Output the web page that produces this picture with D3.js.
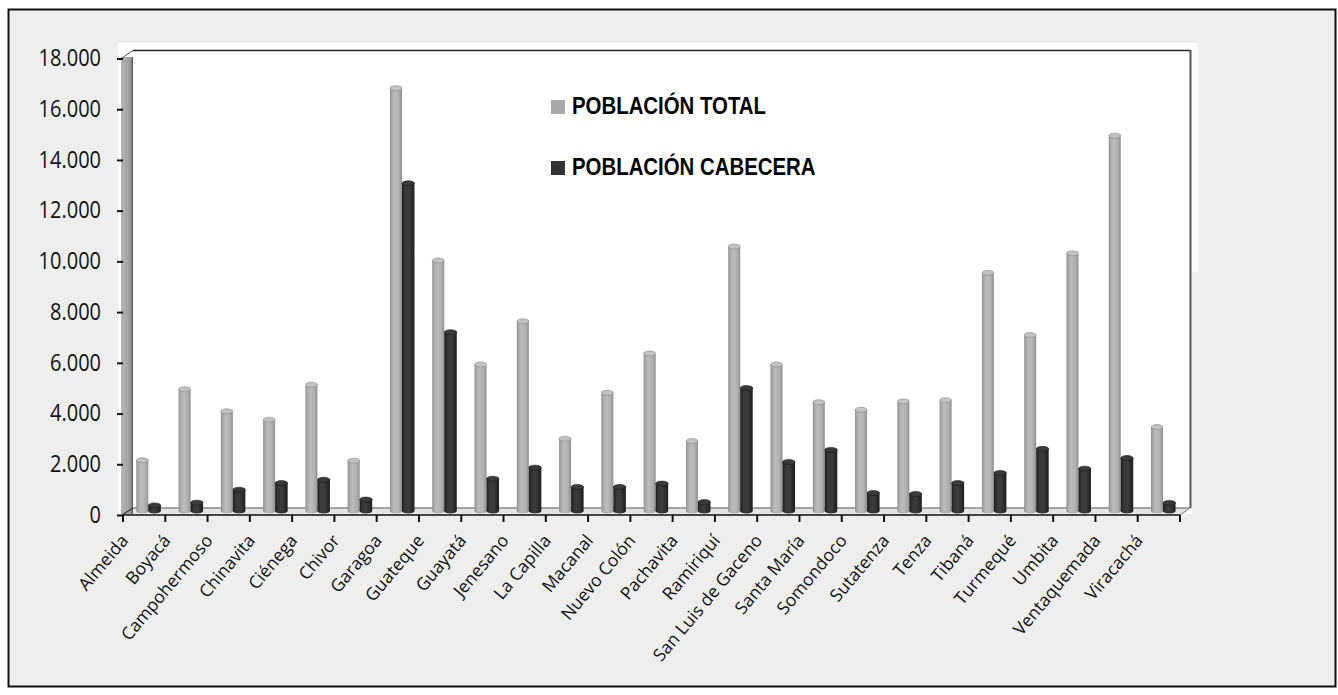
<!DOCTYPE html>
<html>
<head>
<meta charset="utf-8">
<script src="https://cdn.jsdelivr.net/npm/d3@7/dist/d3.min.js"></script>
<style>
  html, body { margin: 0; padding: 0; background: #ffffff; }
  svg { display: block; }
</style>
</head>
<body>
<svg id="chart" width="1338" height="695"></svg>
<script>
// ---- DATA ----
const categories = ["Almeida","Boyacá","Campohermoso","Chinavita","Ciénega","Chivor","Garagoa","Guateque","Guayatá","Jenesano","La Capilla","Macanal","Nuevo Colón","Pachavita","Ramiriquí","San Luis de Gaceno","Santa María","Somondoco","Sutatenza","Tenza","Tibaná","Turmequé","Umbita","Ventaquemada","Viracachá"];
const poblacionTotal = [2000,4800,3930,3600,4980,1980,16670,9880,5780,7480,2850,4660,6210,2760,10430,5780,4290,3990,4320,4370,9390,6940,10160,14800,3310];
const poblacionCabecera = [220,330,840,1100,1230,450,12920,7050,1270,1710,950,950,1080,350,4850,1930,2410,710,670,1100,1500,2450,1670,2090,320];
const yTickValues = [0,2000,4000,6000,8000,10000,12000,14000,16000,18000];
const seriesNames = ["POBLACIÓN TOTAL","POBLACIÓN CABECERA"];
const seriesColors = ["#aaaaaa","#333333"];

// ---- CHART ----
const svg = d3.select("#chart");
const defs = svg.append("defs");
const stretch = 1.2; // text in the reference is stretched vertically

function grad(id, stops) {
  const g = defs.append("linearGradient").attr("id", id)
    .attr("x1","0%").attr("x2","100%").attr("y1","0%").attr("y2","0%");
  stops.forEach(s => g.append("stop").attr("offset", s[0]).attr("stop-color", s[1]));
}
grad("gGray", [["0%","#8c8c8c"],["15%","#a9a9a9"],["40%","#bcbcbc"],["75%","#b0b0b0"],["100%","#8f8f8f"]]);
grad("gDark", [["0%","#1c1c1c"],["25%","#383838"],["55%","#3c3c3c"],["100%","#1e1e1e"]]);
grad("gWall", [["0%","#b4b4b4"],["60%","#a4a4a4"],["85%","#8e8e8e"],["100%","#4a4a4a"]]);

// outer frame
svg.append("rect").attr("x", 8.5).attr("y", 9.5).attr("width", 1327).attr("height", 677)
  .attr("fill", "#eeeeee").attr("stroke", "#111").attr("stroke-width", 2);

const fmt = d3.formatLocale({decimal: ",", thousands: ".", grouping: [3], currency: ["", ""]}).format(",d");

const x = d3.scaleBand().domain(categories).range([123, 1180]).paddingInner(0).paddingOuter(0);
const y = d3.scaleLinear().domain([0, 18000]).range([515, 58.5]);
const depth = 4; // bars sit in the middle of the 3D depth
const yBar = d3.scaleLinear().domain([0, 18000]).range([515 - depth, 58.5 - depth]);

// plot area (white)
svg.append("rect").attr("x", 118).attr("y", 43).attr("width", 1080).attr("height", 471).attr("fill", "#ffffff");
svg.append("rect").attr("x", 1192).attr("y", 272).attr("width", 7).attr("height", 243).attr("fill", "#eeeeee");

// floor
const x0 = x.range()[0], x1 = x.range()[1];
svg.append("path")
  .attr("d", `M${x0},515 L${x0+10},508 L${x1+10},508 L${x1},515 Z`)
  .attr("fill", "#e4e4e4").attr("stroke", "none");
svg.append("line").attr("x1", x0+10).attr("x2", x1+10).attr("y1", 508).attr("y2", 508)
  .attr("stroke", "#8a8a8a").attr("stroke-width", 1.5);
svg.append("line").attr("x1", x1).attr("x2", x1+10).attr("y1", 515).attr("y2", 508)
  .attr("stroke", "#9a9a9a").attr("stroke-width", 1.2);

// back wall top edge and right edge
svg.append("line").attr("x1", x0+10).attr("x2", x1+10).attr("y1", 50.5).attr("y2", 50.5)
  .attr("stroke", "#222").attr("stroke-width", 1.6);
svg.append("line").attr("x1", x1+10.5).attr("x2", x1+10.5).attr("y1", 50).attr("y2", 508)
  .attr("stroke", "#555").attr("stroke-width", 2);

// left side wall
svg.append("rect").attr("x", 121).attr("y", 57).attr("width", 12).attr("height", 457)
  .attr("fill", "url(#gWall)");
svg.append("line").attr("x1", 121).attr("x2", 133).attr("y1", 58.5).attr("y2", 50.5)
  .attr("stroke", "#777").attr("stroke-width", 1.2);
svg.append("line").attr("x1", 122).attr("x2", 133).attr("y1", 515).attr("y2", 508)
  .attr("stroke", "#333").attr("stroke-width", 1.2);

// bars
const gOff = 13.3, gW = 12, dOff = 25.3, dW = 12.5, capR = 2.5;
const bars = svg.append("g");
function drawSeries(values, off, w, fill, capFill, capStroke) {
  const g = bars.append("g");
  categories.forEach((c, i) => {
    const bx = x(c) + off;
    const top = yBar(values[i]);
    const base = yBar(0);
    g.append("ellipse").attr("cx", bx + w/2).attr("cy", base).attr("rx", w/2).attr("ry", capR)
      .attr("fill", fill);
    g.append("rect").attr("x", bx).attr("y", top).attr("width", w).attr("height", base - top)
      .attr("fill", fill);
    g.append("ellipse").attr("cx", bx + w/2).attr("cy", top).attr("rx", w/2).attr("ry", capR)
      .attr("fill", capFill).attr("stroke", capStroke).attr("stroke-width", 0.6);
  });
}
drawSeries(poblacionTotal, gOff, gW, "url(#gGray)", "#c2c2c2", "#8a8a8a");
drawSeries(poblacionCabecera, dOff, dW, "url(#gDark)", "#3a3a3a", "#1a1a1a");

// x axis line and ticks at band boundaries
svg.append("line").attr("x1", x0).attr("x2", x1).attr("y1", 515).attr("y2", 515)
  .attr("stroke", "#111").attr("stroke-width", 1.5);
const bounds = categories.map(c => x(c)).concat([x1]);
svg.append("g").selectAll("line").data(bounds).join("line")
  .attr("x1", d => d).attr("x2", d => d).attr("y1", 515).attr("y2", 522)
  .attr("stroke", "#111").attr("stroke-width", 2);

// x labels
svg.append("g").selectAll("text").data(categories).join("text")
  .attr("transform", c => `translate(${x(c) + x.bandwidth()/2 - 15},${541}) rotate(-50)`)
  .attr("text-anchor", "end")
  .attr("font-family", "'Open Sans', sans-serif")
  .attr("font-size", 17.5)
  .attr("fill", "#111")
  .text(c => c);

// y axis
const yAxis = d3.axisLeft(y).tickValues(yTickValues).tickFormat(fmt).tickSize(6).tickPadding(16);
const ya = svg.append("g").attr("transform", "translate(123,0)").call(yAxis);
ya.select(".domain").remove();
ya.selectAll(".tick line").attr("stroke", "#111").attr("stroke-width", 2);
ya.selectAll(".tick text")
  .attr("transform", `scale(1,${stretch})`)
  .attr("dy", "0.3em")
  .attr("font-family", "'Open Sans', sans-serif")
  .attr("font-size", 20)
  .attr("fill", "#111");

// legend
const lg = svg.append("g").attr("transform", "translate(551,0)");
const legendRows = [114, 175];
seriesNames.forEach((name, i) => {
  lg.append("rect").attr("x", 0).attr("y", legendRows[i] - 14).attr("width", 14).attr("height", 14)
    .attr("fill", seriesColors[i]);
  lg.append("text")
    .attr("transform", `translate(21,${legendRows[i]}) scale(1,${stretch})`)
    .attr("font-family", "'Liberation Sans', Arial, sans-serif")
    .attr("font-weight", "bold")
    .attr("font-size", 20.4)
    .attr("fill", "#000")
    .text(name);
});
</script>
</body>
</html>
